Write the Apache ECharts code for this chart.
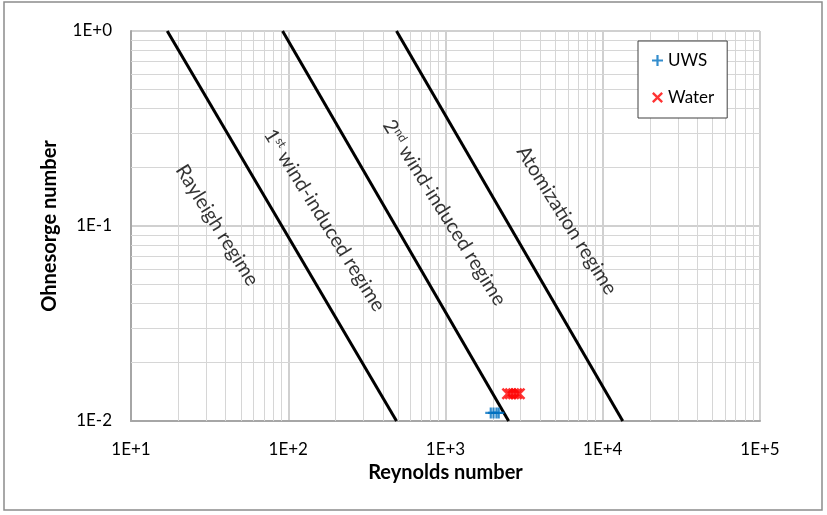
<!DOCTYPE html>
<html>
<head>
<meta charset="utf-8">
<script src="https://cdn.jsdelivr.net/npm/echarts@6/dist/echarts.min.js"></script>
<style>
  html, body { margin: 0; padding: 0; background: #fff; }
  #chart { width: 827px; height: 515px; }
</style>
</head>
<body>
<div id="chart"></div>
<script>
// regime boundaries [Re, Oh]
var rayleighLine = [[17, 1], [488, 0.01]];
var wind1Line = [[92, 1], [2520, 0.01]];
var wind2Line = [[488, 1], [13400, 0.01]];

// measured points
var uwsData = [[1940, 0.011], [2020, 0.011], [2110, 0.011], [2180, 0.011]];
var waterData = [[2480, 0.0138], [2590, 0.0138], [2710, 0.0138], [2830, 0.0138], [2950, 0.0138]];

// regime labels
var regimeNames = ['rayleigh', 'wind1', 'wind2', 'atom'];
var regimeRe = [35.3, 170, 986, 5900];
var regimeOh = [0.101, 0.107, 0.117, 0.107];

// minor grid
var decadesX = [10, 100, 1000, 10000];
var decadesY = [0.01, 0.1];
var minorSteps = [2, 3, 4, 5, 6, 7, 8, 9];

var plusPath = 'path://M4,0H6V4H10V6H6V10H4V6H0V4H4Z';
var crossPath = 'path://M0,1.5L1.5,0L5,3.5L8.5,0L10,1.5L6.5,5L10,8.5L8.5,10L5,6.5L1.5,10L0,8.5L3.5,5Z';

var font = 'Lato, "Liberation Sans", sans-serif';

function expLabel (v) {
  var e = Math.round(Math.log10(v));
  return '1E' + (e >= 0 ? '+' : '-') + Math.abs(e);
}

var minorLines = [];
decadesX.forEach(function (d) {
  minorSteps.forEach(function (s) { minorLines.push({ xAxis: d * s }); });
});
decadesY.forEach(function (d) {
  minorSteps.forEach(function (s) { minorLines.push({ yAxis: d * s }); });
});

var regimeText = {
  rayleigh: 'Rayleigh regime',
  wind1: '1{sup|st} wind-induced regime',
  wind2: '2{sup|nd} wind-induced regime',
  atom: 'Atomization regime'
};

var regimePoints = regimeNames.map(function (n, i) {
  return { name: n, value: [regimeRe[i], regimeOh[i]] };
});

var chartDom = document.getElementById('chart');
var myChart = echarts.init(chartDom);
var option;

var lineStyle = { color: '#000', width: 3 };

option = {
  animation: false,
  textStyle: { fontFamily: font },
  grid: { left: 131, right: 67, top: 31, bottom: 94 },
  graphic: [{
    type: 'rect',
    shape: { x: 4, y: 2, width: 818, height: 508 },
    style: { fill: 'none', stroke: '#8c8c8c', lineWidth: 1.5 },
    silent: true
  }],
  legend: {
    orient: 'vertical',
    left: 638,
    top: 41,
    padding: [11, 13, 12, 14],
    itemGap: 20,
    itemWidth: 11,
    itemHeight: 14,
    borderColor: '#404040',
    borderWidth: 1,
    backgroundColor: '#fff',
    textStyle: { fontFamily: font, fontSize: 17, color: '#000', width: 50 },
    data: [{ name: 'UWS', icon: plusPath }, { name: 'Water', icon: crossPath }]
  },
  xAxis: {
    type: 'log',
    logBase: 10,
    min: 10,
    max: 100000,
    name: 'Reynolds number',
    nameLocation: 'middle',
    nameGap: 40,
    nameTextStyle: { fontFamily: font, fontSize: 20, fontWeight: 'bold', color: '#000' },
    axisLine: { lineStyle: { color: '#a6a6a6', width: 2 } },
    axisTick: { show: false },
    axisLabel: { formatter: expLabel, fontFamily: font, fontSize: 17, color: '#000', margin: 20 },
    splitLine: { show: true, lineStyle: { color: '#d0d0d0', width: 2 } }
  },
  yAxis: {
    type: 'log',
    logBase: 10,
    min: 0.01,
    max: 1,
    name: 'Ohnesorge number',
    nameLocation: 'middle',
    nameGap: 71,
    nameTextStyle: { fontFamily: font, fontSize: 20, fontWeight: 'bold', color: '#000' },
    axisLine: { show: true, lineStyle: { color: '#a6a6a6', width: 2 } },
    axisTick: { show: false },
    axisLabel: { formatter: expLabel, fontFamily: font, fontSize: 17, color: '#000', margin: 19 },
    splitLine: { show: true, lineStyle: { color: '#d0d0d0', width: 2 } }
  },
  series: [
    {
      name: 'grid',
      type: 'line',
      data: [],
      silent: true,
      z: 1,
      markLine: {
        silent: true,
        z: 1,
        symbol: 'none',
        label: { show: false },
        lineStyle: { color: '#d6d6d6', width: 1, type: 'solid' },
        emphasis: { disabled: true },
        data: minorLines
      }
    },
    { name: 'b1', type: 'line', data: rayleighLine, symbol: 'none', lineStyle: lineStyle, z: 3 },
    { name: 'b2', type: 'line', data: wind1Line, symbol: 'none', lineStyle: lineStyle, z: 3 },
    { name: 'b3', type: 'line', data: wind2Line, symbol: 'none', lineStyle: lineStyle, z: 3 },
    {
      name: 'UWS',
      type: 'scatter',
      data: uwsData,
      symbol: plusPath,
      symbolSize: 11,
      itemStyle: { color: '#0070c0' },
      z: 4
    },
    {
      name: 'Water',
      type: 'scatter',
      data: waterData,
      symbol: crossPath,
      symbolSize: 12,
      itemStyle: { color: '#ff0000' },
      z: 4
    },
    {
      name: 'regimes',
      type: 'scatter',
      data: regimePoints,
      symbolSize: 0,
      silent: true,
      z: 3,
      label: {
        show: true,
        position: 'inside',
        rotate: -58,
        fontFamily: font,
        fontSize: 20,
        color: '#000',
        formatter: function (p) { return regimeText[p.name]; },
        rich: {
          sup: { fontFamily: font, fontSize: 12, verticalAlign: 'top', color: '#000' }
        }
      }
    }
  ]
};

option && myChart.setOption(option);
</script>
</body>
</html>
